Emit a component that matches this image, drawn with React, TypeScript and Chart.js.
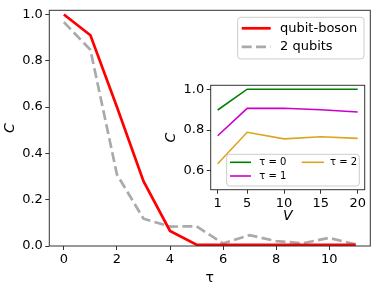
import React, { useEffect, useRef } from "react";
import { Chart, registerables } from "chart.js";
Chart.register(...registerables);

// ---- main panel data ----
const tau = [0, 1, 2, 3, 4, 5, 6, 7, 8, 9, 10, 11];
const qubitBoson = [1.0, 0.91, 0.6, 0.28, 0.065, 0.006, 0.005, 0.005, 0.005, 0.005, 0.005, 0.005];
const twoQubits = [0.967, 0.847, 0.309, 0.118, 0.084, 0.085, 0.011, 0.047, 0.021, 0.012, 0.035, 0.007];
const mainXTicks = [0, 2, 4, 6, 8, 10];
const mainYTicks = [0, 0.2, 0.4, 0.6, 0.8, 1.0];
const mainLabels = ["qubit-boson", "2 qubits"];

// ---- inset data ----
const V = [1, 5, 10, 15, 20];
const tau0 = [0.898, 1.0, 1.0, 1.0, 1.0];
const tau1 = [0.772, 0.906, 0.907, 0.899, 0.888];
const tau2 = [0.635, 0.789, 0.757, 0.767, 0.759];
const insetXTicks = [1, 5, 10, 15, 20];
const insetYTicks = [0.6, 0.8, 1.0];
const insetLabels = ["τ = 0", "τ = 1", "τ = 2"];

const FONT = "'DejaVu Sans', sans-serif";
const SPINE = "#333333";

const pts = (xs: number[], ys: number[]) => xs.map((x, i) => ({ x, y: ys[i] }));

const framePlugin = {
  id: "frame",
  afterDatasetsDraw(chart: any) {
    const { ctx, chartArea: a } = chart;
    ctx.save();
    ctx.strokeStyle = SPINE;
    ctx.lineWidth = 1;
    ctx.strokeRect(a.left, a.top, a.right - a.left, a.bottom - a.top);
    ctx.restore();
  },
};

const whiteBg = {
  id: "whiteBg",
  beforeDraw(chart: any) {
    const { ctx, chartArea: a } = chart;
    ctx.save();
    ctx.fillStyle = "#ffffff";
    ctx.fillRect(a.left, a.top, a.right - a.left, a.bottom - a.top);
    ctx.restore();
  },
};

function legendBox(ctx: CanvasRenderingContext2D, x: number, y: number, w: number, h: number) {
  ctx.save();
  ctx.beginPath();
  (ctx as any).roundRect(x, y, w, h, 3);
  ctx.fillStyle = "rgba(255,255,255,0.8)";
  ctx.fill();
  ctx.strokeStyle = "#cccccc";
  ctx.lineWidth = 1;
  ctx.stroke();
  ctx.restore();
}

function legendItem(ctx: CanvasRenderingContext2D, ds: any, x0: number, x1: number, tx: number, y: number, size: number) {
  ctx.save();
  ctx.strokeStyle = ds.borderColor;
  ctx.lineWidth = ds.borderWidth;
  ctx.setLineDash(ds.borderDash || []);
  ctx.beginPath();
  ctx.moveTo(x0, y);
  ctx.lineTo(x1, y);
  ctx.stroke();
  ctx.setLineDash([]);
  ctx.fillStyle = "#000";
  ctx.font = `${size}px ${FONT}`;
  ctx.textBaseline = "middle";
  ctx.textAlign = "left";
  ctx.fillText(ds.label, tx, y);
  ctx.restore();
}

const mainLegend = {
  id: "mainLegend",
  afterDraw(chart: any) {
    const { ctx, chartArea: a } = chart;
    const w = 126.3, h = 41.6;
    const bx = a.right - 6.3 - w, by = a.top + 7;
    legendBox(ctx, bx, by, w, h);
    const dss = chart.data.datasets;
    legendItem(ctx, dss[0], bx + 4, bx + 33, bx + 42.3, by + 11, 13);
    legendItem(ctx, dss[1], bx + 4, bx + 33, bx + 42.3, by + 29.5, 13);
  },
};

const insetLegend = {
  id: "insetLegend",
  afterDraw(chart: any) {
    const { ctx, chartArea: a } = chart;
    const w = 132.6, h = 31.7;
    const bx = a.left + 16, by = a.bottom - 3.7 - h;
    legendBox(ctx, bx, by, w, h);
    const dss = chart.data.datasets;
    legendItem(ctx, dss[0], bx + 3.3, bx + 24.3, bx + 32.6, by + 8, 10);
    legendItem(ctx, dss[1], bx + 3.3, bx + 24.3, bx + 32.6, by + 21.7, 10);
    legendItem(ctx, dss[2], bx + 75, bx + 97.3, bx + 103.3, by + 8, 10);
  },
};

const gridCfg = { drawOnChartArea: false, drawTicks: true, tickLength: 4, color: SPINE, lineWidth: 1 };

export default function App() {
  const mainRef = useRef<HTMLCanvasElement>(null);
  const insetRef = useRef<HTMLCanvasElement>(null);

  useEffect(() => {
    document.body.style.margin = "0";
    Chart.defaults.font.family = FONT;

    const main = new Chart(mainRef.current as HTMLCanvasElement, {
      type: "line",
      data: {
        datasets: [
          { label: mainLabels[0], data: pts(tau, qubitBoson), borderColor: "#ff0000", borderWidth: 2.7, pointRadius: 0, fill: false, tension: 0 },
          { label: mainLabels[1], data: pts(tau, twoQubits), borderColor: "#aaaaaa", borderWidth: 2.7, borderDash: [10, 4.3], pointRadius: 0, fill: false, tension: 0 },
        ],
      } as any,
      options: {
        animation: false,
        responsive: false,
        devicePixelRatio: 1,
        layout: { padding: { left: 0, top: 5.7, right: 10.7, bottom: 0 } },
        plugins: { legend: { display: false }, tooltip: { enabled: false } },
        scales: {
          x: {
            type: "linear", min: -0.55, max: 11.55,
            afterBuildTicks: (s: any) => { s.ticks = mainXTicks.map((v) => ({ value: v })); },
            afterFit: (s: any) => { s.height = 39; },
            ticks: { callback: (v: any) => String(v), font: { size: 13 }, color: "#000", padding: 2, maxRotation: 0, autoSkip: false },
            grid: gridCfg, border: { display: false },
            title: { display: true, text: "τ", font: { size: 14, lineHeight: 1 }, color: "#000", padding: 0 },
          },
          y: {
            type: "linear", min: 0, max: 1.018,
            afterBuildTicks: (s: any) => { s.ticks = mainYTicks.map((v) => ({ value: v })); },
            afterFit: (s: any) => { s.width = 49.3; },
            ticks: { callback: (v: any) => Number(v).toFixed(1), font: { size: 13 }, color: "#000", padding: 2.5, autoSkip: false },
            grid: gridCfg, border: { display: false },
            title: { display: true, text: "C", font: { size: 14, style: "italic", lineHeight: 1.2 }, color: "#000", padding: { top: 1.6, bottom: 0 } },
          },
        },
      } as any,
      plugins: [framePlugin, mainLegend],
    });

    const inset = new Chart(insetRef.current as HTMLCanvasElement, {
      type: "line",
      data: {
        datasets: [
          { label: insetLabels[0], data: pts(V, tau0), borderColor: "#008000", borderWidth: 1.6, pointRadius: 0, fill: false },
          { label: insetLabels[1], data: pts(V, tau1), borderColor: "#cc00cc", borderWidth: 1.6, pointRadius: 0, fill: false },
          { label: insetLabels[2], data: pts(V, tau2), borderColor: "#daa520", borderWidth: 1.6, pointRadius: 0, fill: false },
        ],
      } as any,
      options: {
        animation: false,
        responsive: false,
        devicePixelRatio: 1,
        layout: { padding: { left: 0, top: 8.3, right: 10.3, bottom: 0 } },
        plugins: { legend: { display: false }, tooltip: { enabled: false } },
        scales: {
          x: {
            type: "linear", min: 0.05, max: 20.95,
            afterBuildTicks: (s: any) => { s.ticks = insetXTicks.map((v) => ({ value: v })); },
            afterFit: (s: any) => { s.height = 35.3; },
            ticks: { callback: (v: any) => String(v), font: { size: 13 }, color: "#000", padding: 2, maxRotation: 0, autoSkip: false },
            grid: gridCfg, border: { display: false },
            title: { display: true, text: "V", font: { size: 14, style: "italic", lineHeight: 1 }, color: "#000", padding: { top: 0, bottom: 1.8 } },
          },
          y: {
            type: "linear", min: 0.508, max: 1.019,
            afterBuildTicks: (s: any) => { s.ticks = insetYTicks.map((v) => ({ value: v })); },
            afterFit: (s: any) => { s.width = 50.7; },
            ticks: { callback: (v: any) => Number(v).toFixed(1), font: { size: 13 }, color: "#000", padding: 2.5, autoSkip: false },
            grid: gridCfg, border: { display: false },
            title: { display: true, text: "C", font: { size: 14, style: "italic", lineHeight: 1.2 }, color: "#000", padding: { top: 3.3, bottom: 0 } },
          },
        },
      } as any,
      plugins: [whiteBg, framePlugin, insetLegend],
    });

    return () => {
      main.destroy();
      inset.destroy();
    };
  }, []);

  return (
    <div style={{ position: "fixed", left: 0, top: 0, width: 381, height: 285, background: "#ffffff" }}>
      <canvas ref={mainRef} width={381} height={285} style={{ position: "absolute", left: 0, top: 0, width: 381, height: 285 }} />
      <canvas ref={insetRef} width={215} height={150} style={{ position: "absolute", left: 160, top: 75, width: 215, height: 150 }} />
    </div>
  );
}
